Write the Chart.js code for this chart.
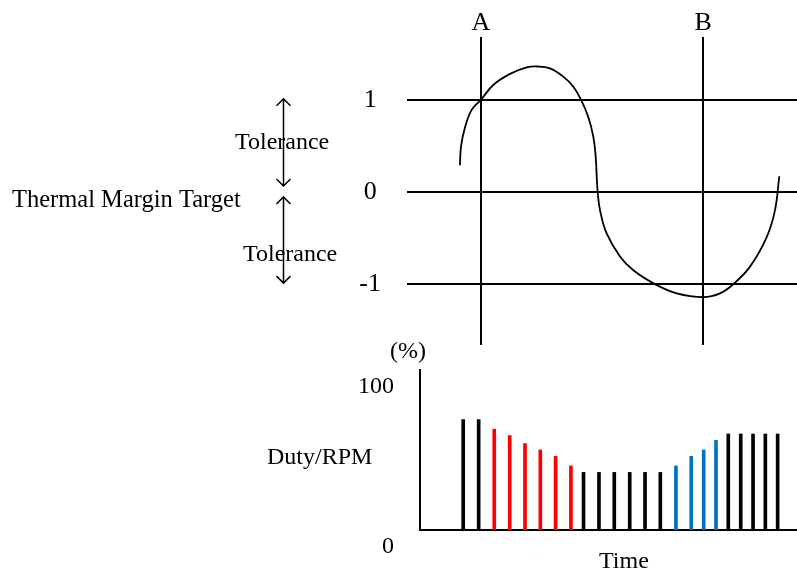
<!DOCTYPE html>
<html>
<head>
<meta charset="utf-8">
<script src="https://cdn.jsdelivr.net/npm/chart.js@4.4.1/dist/chart.umd.min.js"></script>
<style>
    html, body { margin: 0; padding: 0; background: #fff; }
    #wrap { position: relative; width: 797px; height: 574px; }
    #wrap canvas { position: absolute; left: 0; top: 0; }
</style>
</head>
<body>
<div id="wrap">
    <canvas id="chart-margin" width="797" height="574"></canvas>
    <canvas id="chart-duty" width="797" height="574"></canvas>
</div>
<script>
// =========================================================
// Data (time runs 0..26 across the plot width)
// =========================================================

const curveTime   = [3.53, 3.60, 3.87, 4.31, 4.93, 5.75, 6.87, 7.98, 8.69, 9.53, 10.42, 11.09, 11.60, 12.09, 12.42, 12.58,
                     12.65, 12.71, 12.87, 13.31, 14.20, 15.09, 16.53, 17.98, 19.75, 20.87, 21.75, 22.87, 23.98, 24.53, 24.82];
const curveMargin = [0.29, 0.49, 0.70, 0.89, 1.00, 1.16, 1.28, 1.35, 1.36, 1.34, 1.25, 1.14, 1.00, 0.81, 0.60, 0.38,
                     0.16, 0.00, -0.20, -0.45, -0.70, -0.85, -1.00, -1.10, -1.14, -1.10, -1.00, -0.81, -0.49, -0.20, 0.17];

const markTimes   = [4.93, 19.75];
const markLabels  = ['A', 'B'];
const marginTicks = [-1, 0, 1];

const barTimes = [3.75, 4.78, 5.82, 6.85, 7.87, 8.89, 9.91, 10.93, 11.77, 12.80, 13.82, 14.85,
                  15.87, 16.89, 17.93, 18.95, 19.78, 20.60, 21.42, 22.25, 23.07, 23.89, 24.71];
const barDuty  = [69, 69, 63, 59, 54, 50, 46, 40, 36, 36, 36, 36,
                  36, 36, 40, 46, 50, 56, 60, 60, 60, 60, 60];
const barPhase = ['hold', 'hold', 'down', 'down', 'down', 'down', 'down', 'down', 'hold', 'hold', 'hold', 'hold',
                  'hold', 'hold', 'up', 'up', 'up', 'up', 'hold', 'hold', 'hold', 'hold', 'hold'];
const dutyTicks = [0, 100];

// =========================================================
// Style
// =========================================================

const SERIF = '"Liberation Serif", "Times New Roman", serif';
const phaseColor = { hold: '#000000', down: '#ff0000', up: '#0070c0' };

Chart.defaults.font.family = SERIF;
Chart.defaults.color = '#000';
Chart.defaults.animation = false;

function _arrow(ctx, x, y1, y2) {
    const h = 7;
    ctx.beginPath();
    ctx.moveTo(x, y1); ctx.lineTo(x, y2);
    ctx.moveTo(x - h, y1 + h); ctx.lineTo(x, y1); ctx.lineTo(x + h, y1 + h);
    ctx.moveTo(x - h, y2 - h); ctx.lineTo(x, y2); ctx.lineTo(x + h, y2 - h);
    ctx.stroke();
}

// fixed axis box, no extra room for the outer tick labels
function _fixBox(size) {
    return s => {
        if (s.isHorizontal()) s.height = size; else s.width = size;
        s.paddingTop = s.paddingBottom = s.paddingLeft = s.paddingRight = 0;
    };
}

// left side notes of the margin chart
const marginNotes = {
    id: 'marginNotes',
    afterDraw(chart) {
        const { ctx, scales: { y } } = chart;
        ctx.save();
        ctx.fillStyle = '#000';
        ctx.font = '24.5px ' + SERIF;
        ctx.textBaseline = 'alphabetic';
        ctx.fillText('Thermal Margin Target', 12, 207);
        ctx.font = '24px ' + SERIF;
        ctx.fillText('Tolerance', 235, 149);
        ctx.fillText('Tolerance', 243, 261);

        ctx.strokeStyle = '#000';
        ctx.lineWidth = 1.5;
        _arrow(ctx, 283.5, y.getPixelForValue(1) - 1, y.getPixelForValue(0) - 6);
        _arrow(ctx, 283.5, y.getPixelForValue(0) + 5, y.getPixelForValue(-1) - 1);
        ctx.restore();
    }
};

const dutyNotes = {
    id: 'dutyNotes',
    afterDraw(chart) {
        const { ctx } = chart;
        ctx.save();
        ctx.fillStyle = '#000';
        ctx.font = '24px ' + SERIF;
        ctx.textBaseline = 'alphabetic';
        ctx.fillText('Duty/RPM', 267, 464);
        ctx.fillText('Time', 599, 568);
        ctx.textAlign = 'center';
        ctx.textBaseline = 'middle';
        ctx.fillText('(%)', 408, 352);
        ctx.restore();
    }
};

// =========================================================
// Thermal margin chart
// =========================================================

new Chart(document.getElementById('chart-margin'), {
    type: 'scatter',
    data: {
        datasets: [{
            data: curveTime.map((t, i) => ({ x: t, y: curveMargin[i] })),
            showLine: true,
            borderColor: '#000',
            borderWidth: 1.8,
            pointRadius: 0,
            tension: 0.4,
        }]
    },
    options: {
        responsive: false,
        layout: { autoPadding: false, padding: { left: 0, right: 0, top: 0, bottom: 229 } },
        plugins: { legend: { display: false }, tooltip: { enabled: false } },
        scales: {
            x: {
                type: 'linear', position: 'top', min: 0, max: 26,
                afterBuildTicks: s => { s.ticks = markTimes.map(v => ({ value: v })); },
                afterFit: _fixBox(37),
                grid: { color: '#000', lineWidth: 2, drawTicks: false },
                border: { display: false },
                ticks: {
                    padding: -2,
                    font: { size: 26 },
                    callback: v => markLabels[markTimes.indexOf(v)] ?? '',
                },
            },
            y: {
                min: -1.66, max: 1.68,
                afterBuildTicks: s => { s.ticks = marginTicks.map(v => ({ value: v })); },
                afterFit: _fixBox(407),
                grid: { color: '#000', lineWidth: 2, drawTicks: false },
                border: { display: false },
                ticks: {
                    crossAlign: 'center',
                    padding: 26,
                    font: { size: 26 },
                    callback: v => String(v),
                },
            },
        },
    },
    plugins: [marginNotes],
});

// =========================================================
// Duty / RPM chart
// =========================================================

new Chart(document.getElementById('chart-duty'), {
    type: 'bar',
    data: {
        datasets: [{
            data: barTimes.map((t, i) => ({ x: t, y: barDuty[i] })),
            backgroundColor: barPhase.map(p => phaseColor[p]),
            barThickness: 3,
            borderWidth: 0,
        }]
    },
    options: {
        responsive: false,
        layout: { autoPadding: false, padding: { left: 0, right: 0, top: 370, bottom: 0 } },
        plugins: { legend: { display: false }, tooltip: { enabled: false } },
        scales: {
            x: {
                type: 'linear', min: 0.87, max: 26, offset: false,
                afterFit: _fixBox(44),
                grid: { display: false, offset: false },
                border: { display: true, color: '#000', width: 2 },
                ticks: { display: false },
            },
            y: {
                min: 0, max: 100,
                afterBuildTicks: s => { s.ticks = dutyTicks.map(v => ({ value: v })); },
                afterFit: _fixBox(420),
                grid: { display: false, drawTicks: false },
                border: { display: true, color: '#000', width: 2 },
                ticks: { padding: 26, labelOffset: 17, font: { size: 24 } },
            },
        },
    },
    plugins: [dutyNotes],
});
</script>
</body>
</html>
